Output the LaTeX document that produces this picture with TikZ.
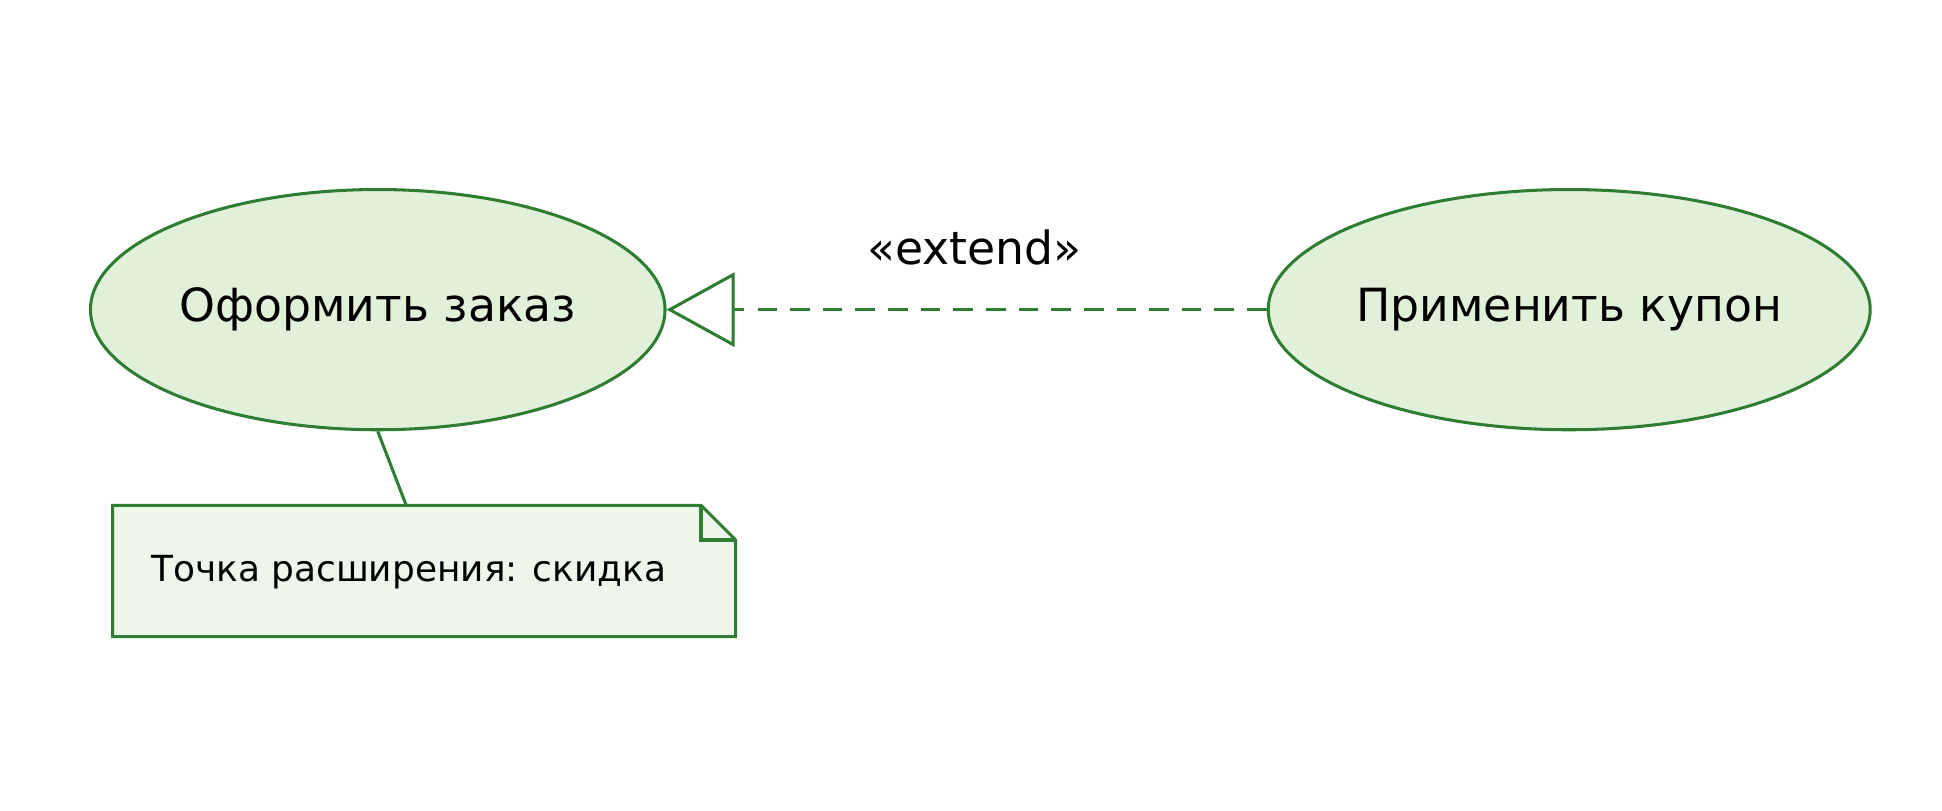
\documentclass[tikz,border=0pt]{standalone}
\usepackage{fontspec}
\setmainfont{DejaVu Sans}
\usetikzlibrary{shapes.geometric,arrows.meta}
\definecolor{umlgreen}{HTML}{2E7D32}
\definecolor{ucfill}{HTML}{E0F0D9}
\definecolor{notefill}{HTML}{EEF6EC}
\tikzstyle{usecase}=[ellipse, draw=umlgreen, fill=ucfill, line width=1.4pt, minimum width=9.28cm, minimum height=3.88cm, inner sep=0pt, font=\fontsize{21}{24}\selectfont, anchor=center]
\tikzstyle{annot}=[align=center, font=\fontsize{21}{24}\selectfont]
\tikzstyle{link}=[draw=umlgreen, line width=1.4pt]
\begin{document}
\begin{tikzpicture}[x=0.02cm,y=-0.02cm]
  \useasboundingbox (0,0) rectangle (1568,654);
  \node[usecase](order) at (305,250){Оформить заказ};
  \node[usecase](coupon) at (1267,250){Применить купон};
  \node[annot](ext) at (787,200){«extend»};

  % note with folded corner
  \coordinate (notetop) at (328,408);
  \filldraw[link, fill=notefill] (91,408) -- (566,408) -- (594,436) -- (594,514) -- (91,514) -- cycle;
  \draw[link] (566,408) -- (566,436) -- (594,436);
  \node[anchor=west, font=\fontsize{16.5}{20}\selectfont](note) at (116,462){Точка расширения: скидка};
  \draw[link] (order.south) -- (notetop);

  \draw[link, dash pattern=on 9pt off 6pt, -{Triangle[open, length=1.1cm, width=1.2cm, line width=1.4pt]}] (coupon.west) -- (order.east);
\end{tikzpicture}
\end{document}
